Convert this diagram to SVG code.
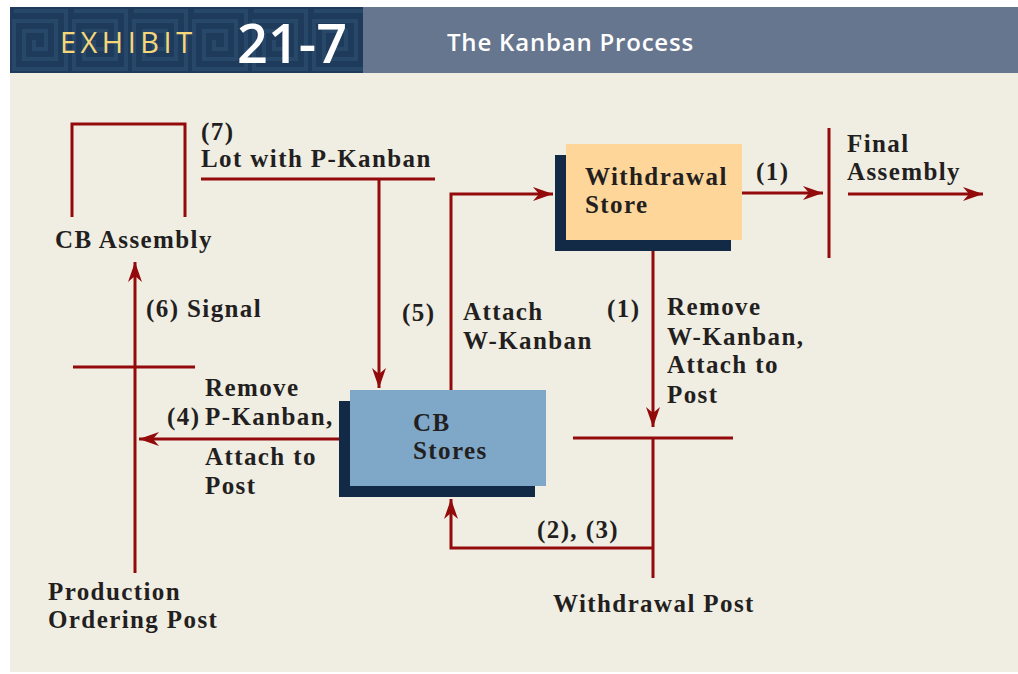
<svg xmlns="http://www.w3.org/2000/svg" width="1018" height="674" viewBox="0 0 1018 674">
<defs>
<style>
.t{font-family:"Liberation Serif","Times New Roman",serif;font-weight:bold;font-size:25px;letter-spacing:1.4px;fill:#231f20}
.ln{stroke:#930a0a;stroke-width:3;fill:none}
.hd{font-family:"Open Sans","Liberation Sans",sans-serif}
</style>
<marker id="ah" viewBox="0 0 20 14" refX="20" refY="7" markerWidth="20" markerHeight="14" markerUnits="userSpaceOnUse" orient="auto">
<path d="M0,0 L20,7 L0,14 L6,7 Z" fill="#930a0a"/>
</marker>
<pattern id="maze" x="10" y="7" width="60" height="66" patternUnits="userSpaceOnUse">
<rect width="60" height="66" fill="#1f3b5c"/>
<path d="M4,4 H56 V62 H4 V14 H46 V52 H14 V24 H36 V42 H24 V33" stroke="#284869" stroke-width="4" fill="none"/>
</pattern>
</defs>
<rect x="0" y="0" width="1018" height="674" fill="#ffffff"/>
<rect x="10" y="73" width="1008" height="599" fill="#f0ede3"/>
<g id="header">
<rect x="10" y="7" width="353" height="66" fill="url(#maze)"/>
<rect x="363" y="7" width="655" height="66" fill="#67768f"/>
<text class="hd" x="60" y="53" font-size="29" fill="#f5d77a" letter-spacing="4.5">EXHIBIT</text>
<text class="hd" x="237" y="63" font-size="54" font-weight="600" fill="#ffffff">21-7</text>
<text class="hd" x="447" y="51" font-size="24" font-weight="600" fill="#ffffff" letter-spacing="0.8">The Kanban Process</text>
</g>
<g id="connectors">
<path class="ln" d="M72,217 V124 H185 V217"/>
<path class="ln" d="M201,179 H435"/>
<path class="ln" d="M379,179 V388" marker-end="url(#ah)"/>
<path class="ln" d="M451,390 V194 H553" marker-end="url(#ah)"/>
<path class="ln" d="M742,193 H823" marker-end="url(#ah)"/>
<path class="ln" d="M829,128 V258"/>
<path class="ln" d="M848,194 H983" marker-end="url(#ah)"/>
<path class="ln" d="M653,251 V427" marker-end="url(#ah)"/>
<path class="ln" d="M573,438 H733"/>
<path class="ln" d="M653,438 V578"/>
<path class="ln" d="M653,548 H451 V499" marker-end="url(#ah)"/>
<path class="ln" d="M339,439 H139" marker-end="url(#ah)"/>
<path class="ln" d="M73,367 H195"/>
<path class="ln" d="M135,573 V262" marker-end="url(#ah)"/>
</g>
<g id="cb-assembly">
<text class="t" x="55" y="248">CB Assembly</text>
</g>
<g id="withdrawal-store">
<rect x="555" y="155" width="176" height="96" fill="#132a47"/>
<rect x="566" y="144" width="176" height="96" fill="#fed699"/>
<text class="t" x="585" y="185">Withdrawal</text>
<text class="t" x="585" y="213">Store</text>
</g>
<g id="cb-stores">
<rect x="339" y="401" width="196" height="96" fill="#132a47"/>
<rect x="350" y="390" width="196" height="96" fill="#7ea7c8"/>
<text class="t" x="413" y="431">CB</text>
<text class="t" x="413" y="459">Stores</text>
</g>
<g id="final-assembly">
<text class="t" x="847" y="152">Final</text>
<text class="t" x="847" y="180">Assembly</text>
</g>
<g id="production-ordering-post">
<text class="t" x="48" y="600">Production</text>
<text class="t" x="48" y="628">Ordering Post</text>
</g>
<g id="withdrawal-post">
<text class="t" x="553" y="612">Withdrawal Post</text>
</g>
<g id="labels">
<text class="t" x="201" y="140">(7)</text>
<text class="t" x="201" y="167">Lot with P-Kanban</text>
<text class="t" x="146" y="317">(6) Signal</text>
<text class="t" x="402" y="321">(5)</text>
<text class="t" x="463" y="320">Attach</text>
<text class="t" x="463" y="349">W-Kanban</text>
<text class="t" x="756" y="180">(1)</text>
<text class="t" x="607" y="317">(1)</text>
<text class="t" x="667" y="315">Remove</text>
<text class="t" x="667" y="345">W-Kanban,</text>
<text class="t" x="667" y="373">Attach to</text>
<text class="t" x="667" y="403">Post</text>
<text class="t" x="205" y="396">Remove</text>
<text class="t" x="167" y="425">(4)</text>
<text class="t" x="205" y="425">P-Kanban,</text>
<text class="t" x="205" y="465">Attach to</text>
<text class="t" x="205" y="494">Post</text>
<text class="t" x="537" y="538">(2), (3)</text>
</g>
</svg>
